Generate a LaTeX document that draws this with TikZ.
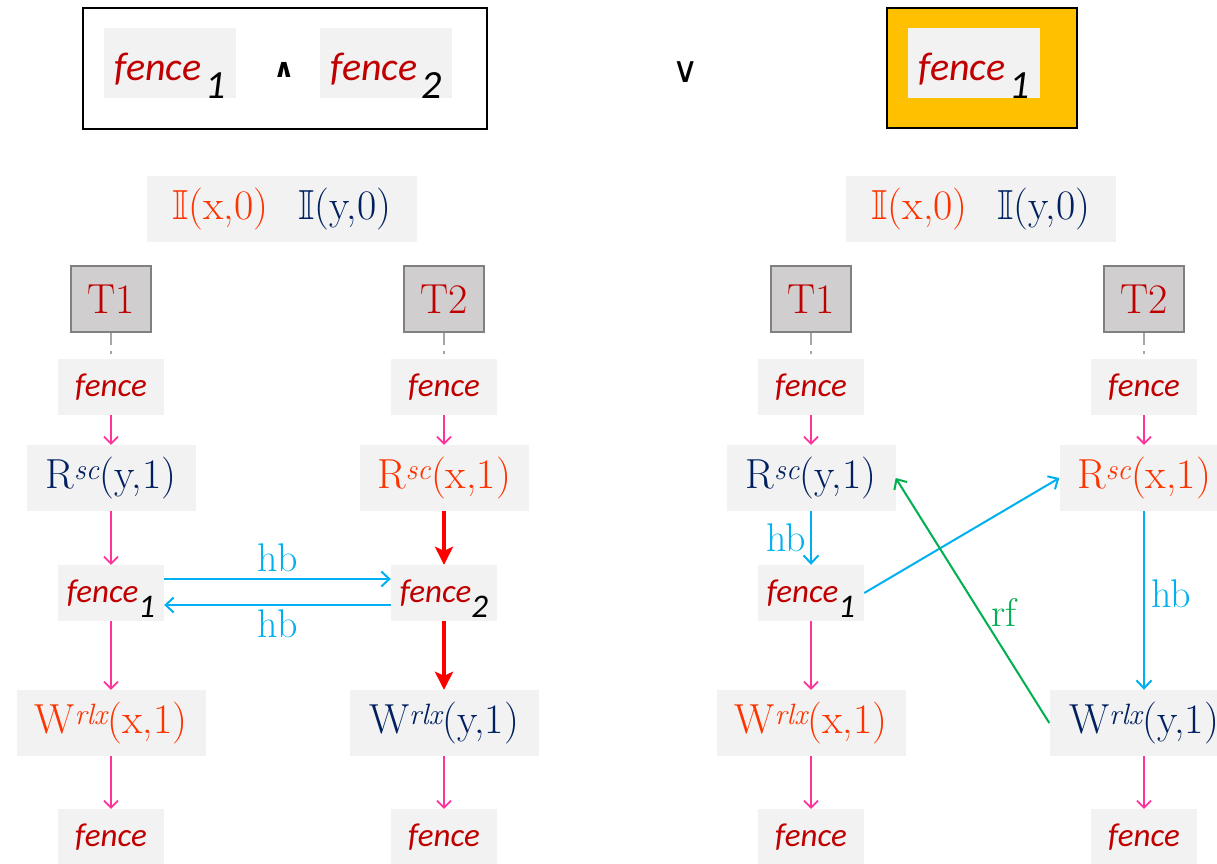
\documentclass[tikz,border=0pt]{standalone}
\usepackage{fontspec}
\usepackage{amssymb}
\newfontfamily\calibri{Carlito}
\newfontfamily\dejavu{DejaVu Sans}
\usetikzlibrary{arrows.meta}

\definecolor{boxgray}{HTML}{F2F2F2}
\definecolor{fencered}{HTML}{C00000}
\definecolor{xorange}{HTML}{FF3300}
\definecolor{ynavy}{HTML}{002060}
\definecolor{popink}{HTML}{FF3399}
\definecolor{hbblue}{HTML}{00B0F0}
\definecolor{rfgreen}{HTML}{00B050}
\definecolor{tfill}{HTML}{D0CECE}
\definecolor{tline}{HTML}{808080}
\definecolor{gold}{HTML}{FFC000}

\newcommand\evfont{\fontsize{42}{46}\selectfont}
\newcommand\fencefont{\calibri\itshape\fontsize{33}{36}\selectfont}
\newcommand\idx[1]{{\color{black}\raisebox{-0.45em}[0pt][0pt]{#1}}}
\newcommand\rsc[1]{R\textsuperscript{\itshape sc}(#1,1)}
\newcommand\wrlx[1]{W\textsuperscript{\itshape rlx}(#1,1)}
\newcommand\initxy{\textcolor{xorange}{$\mathbb{I}$(x,0)}\hspace{30pt}\textcolor{ynavy}{$\mathbb{I}$(y,0)}}

\tikzset{
  fencebox/.style={fill=boxgray, minimum width=106pt, minimum height=56pt, inner sep=0pt, text=fencered, font=\fencefont},
  topfence/.style={fencebox, minimum width=132pt, minimum height=70pt, text height=34pt, text depth=0pt, font=\calibri\itshape\fontsize{40}{44}\selectfont},
  evbox/.style={fill=boxgray, minimum height=66pt, inner sep=0pt, font=\evfont},
  rbox/.style={evbox, minimum width=169pt},
  wbox/.style={evbox, minimum width=189pt},
  thread/.style={draw=tline, line width=2.5pt, fill=tfill, minimum width=80pt, minimum height=66pt, inner sep=0pt, text=fencered, font=\evfont},
  tdash/.style={draw=tline!70, line width=2pt, dash pattern=on 12pt off 6pt on 3pt off 6pt},
  po/.style={draw=popink, line width=1.8pt, -{Straight Barb[length=7pt,width=14pt]}},
  pored/.style={draw=red, line width=4.5pt, -{Stealth[length=18pt,width=18pt,inset=4pt]}},
  hbarr/.style={draw=hbblue, line width=2pt, -{Straight Barb[length=8pt,width=15pt]}},
  rfarr/.style={draw=rfgreen, line width=2pt, -{Straight Barb[length=8pt,width=15pt]}},
  hblabel/.style={text=hbblue, font=\fontsize{40}{44}\selectfont, inner sep=2pt},
}

\begin{document}
\begin{tikzpicture}[x=1pt,y=-1pt]
  \useasboundingbox (0,0) rectangle (1217,863);
  \clip (0,0) rectangle (1217,863);

  % top: the two cases
  \draw[line width=2pt] (83,8) rectangle (487,129);
  \node[topfence] (topa) at (170,63) {fence\kern4pt\idx{1}};
  \node[topfence] (topb) at (386,63) {fence\kern4pt\idx{2}};
  \node[font=\dejavu\bfseries\fontsize{26}{28}\selectfont] (andsym) at (284,70) {∧};
  \node[font=\dejavu\fontsize{36}{40}\selectfont] (orsym) at (686,72) {∨};
  \draw[line width=2pt, fill=gold] (887,8) rectangle (1077,128);
  \node[topfence] (topc) at (974,63) {fence\kern4pt\idx{1}};

  % left execution
  \node[evbox, minimum width=270pt] (Linit) at (282,209) {\initxy};
  \node[thread] (Lta) at (111,299) {T1};
  \node[thread] (Ltb) at (444,299) {T2};
  \node[fencebox] (Lfa0) at (111,387) {fence};
  \node[rbox, text=ynavy] (Lra) at (111,478) {\rsc{y}};
  \node[fencebox] (Lfa1) at (111,593) {fence\idx{1}};
  \node[wbox, text=xorange] (Lwa) at (111,723) {\wrlx{x}};
  \node[fencebox] (Lfa2) at (111,837) {fence};
  \node[fencebox] (Lfb0) at (444,387) {fence};
  \node[rbox, text=xorange] (Lrb) at (444,478) {\rsc{x}};
  \node[fencebox] (Lfb1) at (444,593) {fence\idx{2}};
  \node[wbox, text=ynavy] (Lwb) at (444,723) {\wrlx{y}};
  \node[fencebox] (Lfb2) at (444,837) {fence};

  \draw[tdash] (Lta) -- (Lfa0);
  \draw[tdash] (Ltb) -- (Lfb0);
  \foreach \a/\b in {Lfa0/Lra,Lra/Lfa1,Lfa1/Lwa,Lwa/Lfa2,Lfb0/Lrb,Lwb/Lfb2}
    \draw[po] (\a) -- (\b);
  \draw[pored] (Lrb) -- (Lfb1);
  \draw[pored] (Lfb1) -- (Lwb);
  \draw[hbarr] ([yshift=14pt]Lfa1.east) -- node[hblabel, above=4pt] {hb} ([yshift=14pt]Lfb1.west);
  \draw[hbarr] ([yshift=-12pt]Lfb1.west) -- node[hblabel, below=2pt] {hb} ([yshift=-12pt]Lfa1.east);

  % right execution
  \node[evbox, minimum width=270pt] (Rinit) at (981,209) {\initxy};
  \node[thread] (Rta) at (811,299) {T1};
  \node[thread] (Rtb) at (1144,299) {T2};
  \node[fencebox] (Rfa0) at (811,387) {fence};
  \node[rbox, text=ynavy] (Rra) at (811,478) {\rsc{y}};
  \node[fencebox] (Rfa1) at (811,593) {fence\idx{1}};
  \node[wbox, text=xorange] (Rwa) at (811,723) {\wrlx{x}};
  \node[fencebox] (Rfa2) at (811,837) {fence};
  \node[fencebox] (Rfb0) at (1144,387) {fence};
  \node[rbox, text=xorange] (Rrb) at (1144,478) {\rsc{x}};
  \node[wbox, text=ynavy] (Rwb) at (1144,723) {\wrlx{y}};
  \node[fencebox] (Rfb2) at (1144,837) {fence};

  \draw[tdash] (Rta) -- (Rfa0);
  \draw[tdash] (Rtb) -- (Rfb0);
  \foreach \a/\b in {Rfa0/Rra,Rfa1/Rwa,Rwa/Rfa2,Rfb0/Rrb,Rwb/Rfb2}
    \draw[po] (\a) -- (\b);
  \draw[hbarr] (Rra) -- node[hblabel, left=2pt] {hb} (Rfa1);
  \draw[hbarr] (Rrb) -- node[hblabel, right=4pt, pos=0.46] {hb} (Rwb);
  \draw[hbarr] (Rfa1.east) -- (Rrb.west);
  \draw[rfarr] (Rwb.west) -- node[pos=0.45, right=8pt, text=rfgreen, font=\fontsize{40}{44}\selectfont, inner sep=2pt] {rf} (Rra.east);
\end{tikzpicture}
\end{document}
